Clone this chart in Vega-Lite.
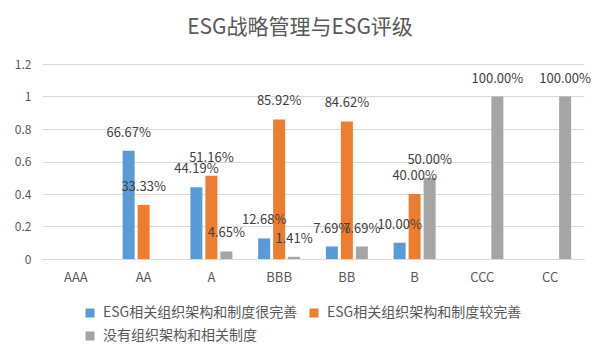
{
  "$schema": "https://vega.github.io/schema/vega-lite/v6.json",
  "width": 542,
  "height": 195,
  "autosize": {"type": "none"},
  "padding": {"left": 42, "top": 64, "right": 18, "bottom": 103},
  "background": "#ffffff",
  "config": {
    "font": "Noto Sans CJK SC",
    "view": {"stroke": null}
  },
  "title": {
    "text": "ESG战略管理与ESG评级",
    "fontSize": 21,
    "fontWeight": "normal",
    "color": "#595959",
    "anchor": "middle",
    "offset": 20,
    "dx": -13
  },
  "data": {
    "values": [
      {"rating": "AAA", "series": "ESG相关组织架构和制度很完善", "value": 0},
      {"rating": "AAA", "series": "ESG相关组织架构和制度较完善", "value": 0},
      {"rating": "AAA", "series": "没有组织架构和相关制度", "value": 0},
      {"rating": "AA", "series": "ESG相关组织架构和制度很完善", "value": 0.6667},
      {"rating": "AA", "series": "ESG相关组织架构和制度较完善", "value": 0.3333},
      {"rating": "AA", "series": "没有组织架构和相关制度", "value": 0},
      {"rating": "A", "series": "ESG相关组织架构和制度很完善", "value": 0.4419},
      {"rating": "A", "series": "ESG相关组织架构和制度较完善", "value": 0.5116},
      {"rating": "A", "series": "没有组织架构和相关制度", "value": 0.0465},
      {"rating": "BBB", "series": "ESG相关组织架构和制度很完善", "value": 0.1268},
      {"rating": "BBB", "series": "ESG相关组织架构和制度较完善", "value": 0.8592},
      {"rating": "BBB", "series": "没有组织架构和相关制度", "value": 0.0141},
      {"rating": "BB", "series": "ESG相关组织架构和制度很完善", "value": 0.0769},
      {"rating": "BB", "series": "ESG相关组织架构和制度较完善", "value": 0.8462},
      {"rating": "BB", "series": "没有组织架构和相关制度", "value": 0.0769},
      {"rating": "B", "series": "ESG相关组织架构和制度很完善", "value": 0.1},
      {"rating": "B", "series": "ESG相关组织架构和制度较完善", "value": 0.4},
      {"rating": "B", "series": "没有组织架构和相关制度", "value": 0.5},
      {"rating": "CCC", "series": "ESG相关组织架构和制度很完善", "value": 0},
      {"rating": "CCC", "series": "ESG相关组织架构和制度较完善", "value": 0},
      {"rating": "CCC", "series": "没有组织架构和相关制度", "value": 1},
      {"rating": "CC", "series": "ESG相关组织架构和制度很完善", "value": 0},
      {"rating": "CC", "series": "ESG相关组织架构和制度较完善", "value": 0},
      {"rating": "CC", "series": "没有组织架构和相关制度", "value": 1}
    ]
  },
  "encoding": {
    "x": {
      "field": "rating",
      "type": "nominal",
      "sort": ["AAA", "AA", "A", "BBB", "BB", "B", "CCC", "CC"],
      "scale": {"paddingInner": 0.336, "paddingOuter": 0.168},
      "axis": {
        "title": null,
        "labelAngle": 0,
        "labelFontSize": 13,
        "labelColor": "#595959",
        "labelPadding": 12,
        "ticks": false,
        "domainColor": "#D9D9D9",
        "domainWidth": 1
      }
    },
    "xOffset": {
      "field": "series",
      "type": "nominal",
      "scale": {
        "domain": ["ESG相关组织架构和制度很完善", "ESG相关组织架构和制度较完善", "没有组织架构和相关制度"],
        "paddingInner": 0.2,
        "paddingOuter": 0.1
      }
    },
    "y": {
      "field": "value",
      "type": "quantitative",
      "scale": {"domain": [0, 1.2], "nice": false},
      "axis": {
        "title": null,
        "values": [0, 0.2, 0.4, 0.6, 0.8, 1, 1.2],
        "format": ".1~f",
        "labelFontSize": 12,
        "labelColor": "#595959",
        "labelPadding": 11,
        "ticks": false,
        "domain": false,
        "gridColor": "#D9D9D9",
        "gridWidth": 1
      }
    }
  },
  "layer": [
    {
      "mark": {"type": "bar"},
      "encoding": {
        "color": {
          "field": "series",
          "type": "nominal",
          "scale": {
            "domain": ["ESG相关组织架构和制度很完善", "ESG相关组织架构和制度较完善", "没有组织架构和相关制度"],
            "range": ["#5B9BD5", "#ED7D31", "#A5A5A5"]
          },
          "legend": {
            "title": null,
            "orient": "none",
            "direction": "horizontal",
            "legendX": 41,
            "legendY": 242,
            "columns": 2,
            "columnPadding": 9,
            "rowPadding": 9,
            "symbolType": "square",
            "symbolSize": 81,
            "symbolStrokeWidth": 0,
            "labelOffset": 6,
            "labelFontSize": 14,
            "labelColor": "#595959",
            "labelLimit": 400
          }
        }
      }
    },
    {
      "transform": [{"filter": "datum.value > 0"}],
      "mark": {
        "type": "text",
        "baseline": "middle",
        "align": "center",
        "dy": -18,
        "fontSize": 13,
        "color": "#404040"
      },
      "encoding": {
        "text": {"field": "value", "type": "quantitative", "format": ".2%"}
      }
    }
  ]
}
